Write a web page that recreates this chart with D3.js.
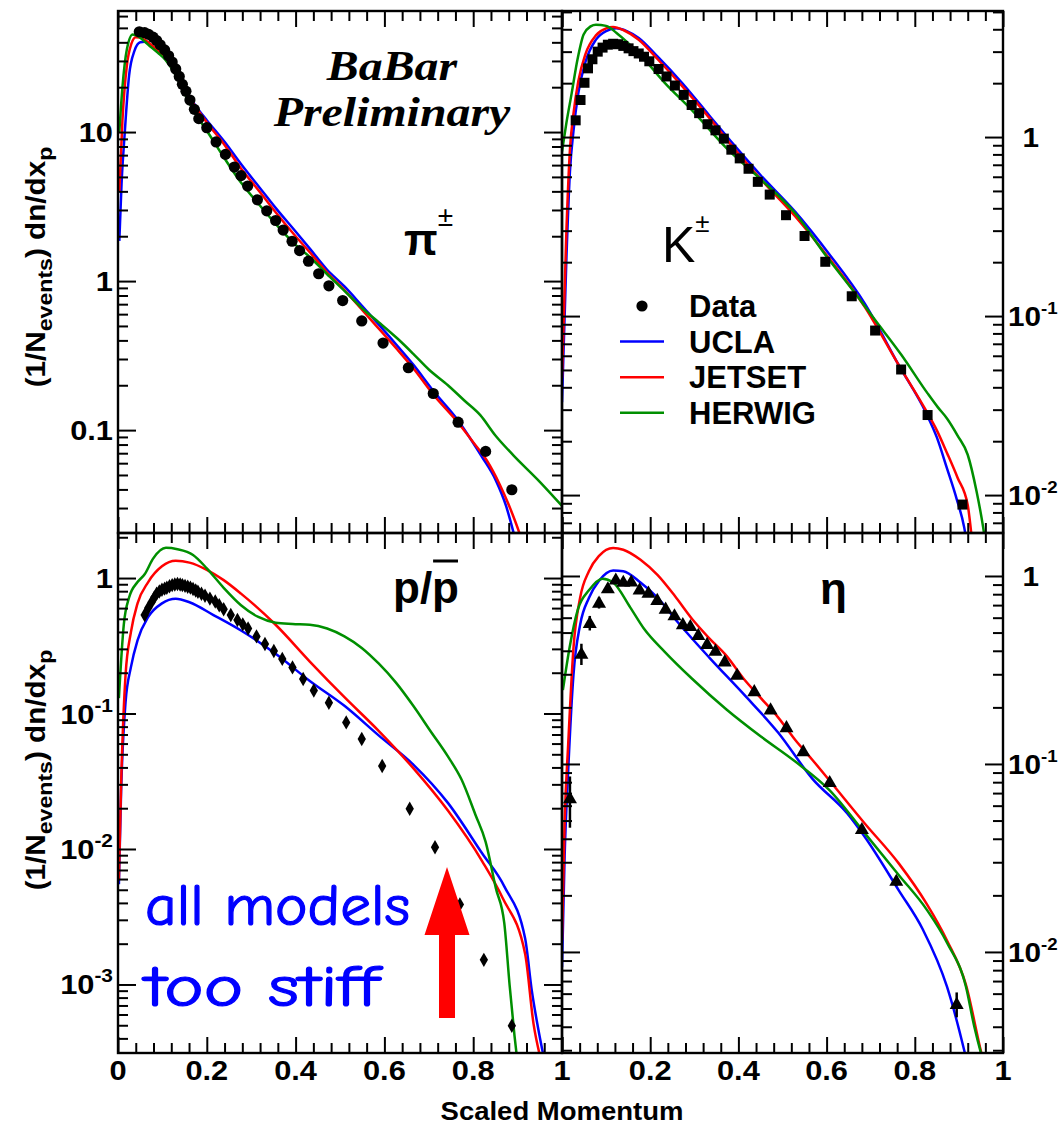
<!DOCTYPE html>
<html>
<head>
<meta charset="utf-8">
<script src="https://cdn.jsdelivr.net/npm/d3@7"></script>
<style>
  html, body { margin: 0; padding: 0; background: #fff; }
  svg { display: block; }
</style>
</head>
<body>
<svg id="chart" width="1060" height="1128"></svg>
<script>
// ---------------- data ----------------
const xTickValues = [0, 0.2, 0.4, 0.6, 0.8, 1];
const xTickLabels = ["0", "0.2", "0.4", "0.6", "0.8", "1"];

// y tick labels: [value, base, exponent]
const piTicks  = [[10, "10", ""], [1, "1", ""], [0.1, "0.1", ""]];
const kTicks   = [[1, "1", ""], [0.1, "10", "-1"], [0.01, "10", "-2"]];
const pTicks   = [[1, "1", ""], [0.1, "10", "-1"], [0.01, "10", "-2"], [0.001, "10", "-3"]];
const etaTicks = [[1, "1", ""], [0.1, "10", "-1"], [0.01, "10", "-2"]];

// y-axis ranges
const piRange  = [0.0204, 64.9];
const kRange   = [0.00614, 5.06];
const pRange   = [3.12e-4, 2.15];
const etaRange = [0.0029, 1.693];

const modelNames = ["UCLA", "JETSET", "HERWIG"];

// ---- pi+- ----
const piData = [[0.048,47.1],[0.060,46.4],[0.069,45.2],[0.079,43.3],[0.087,41.1],[0.095,38.5],[0.105,35.6],[0.114,32.5],[0.122,29.5],[0.130,26.5],[0.138,23.6],[0.145,20.9],[0.153,18.8],[0.162,16.4],[0.172,14.2],[0.182,12.3],[0.200,10.7],[0.221,8.58],[0.242,7.08],[0.262,5.82],[0.277,5.10],[0.292,4.34],[0.314,3.51],[0.335,2.96],[0.355,2.55],[0.372,2.20],[0.392,1.85],[0.409,1.60],[0.429,1.36],[0.452,1.12],[0.475,0.93],[0.506,0.74],[0.549,0.54],[0.597,0.384],[0.654,0.262],[0.710,0.176],[0.766,0.113],[0.828,0.072],[0.887,0.0398]];
const piUCLA = [[0.003,1.86],[0.008,4.5],[0.015,9.7],[0.025,24],[0.037,35],[0.05,40],[0.06,40.3],[0.075,38],[0.09,34.5],[0.107,31],[0.125,26.5],[0.14,22.5],[0.16,17.5],[0.18,14.3],[0.2,12.0],[0.24,8.6],[0.277,6.1],[0.32,4.2],[0.355,3.1],[0.40,2.15],[0.432,1.65],[0.47,1.2],[0.51,0.92],[0.55,0.68],[0.59,0.5],[0.63,0.365],[0.665,0.275],[0.711,0.182],[0.766,0.116],[0.80,0.082],[0.82,0.066],[0.851,0.046],[0.874,0.031],[0.89,0.021],[0.9,0.016]];
const piJETSET = [[0.003,4],[0.01,12],[0.02,28],[0.03,39],[0.04,43.3],[0.05,43],[0.06,41.5],[0.075,38.5],[0.09,35],[0.107,31],[0.125,26.3],[0.14,22.3],[0.16,17.3],[0.18,14],[0.2,11.6],[0.24,8.2],[0.277,5.7],[0.32,3.95],[0.355,2.9],[0.40,2.0],[0.432,1.56],[0.47,1.15],[0.51,0.87],[0.55,0.64],[0.59,0.47],[0.63,0.345],[0.665,0.26],[0.711,0.172],[0.766,0.112],[0.80,0.083],[0.83,0.063],[0.86,0.043],[0.885,0.029],[0.905,0.02],[0.915,0.016]];
const piHERWIG = [[0.003,10],[0.01,20],[0.02,36],[0.033,45.2],[0.045,44],[0.06,40.5],[0.075,37],[0.09,34],[0.107,30.5],[0.125,25.5],[0.14,21],[0.161,15.6],[0.18,12.5],[0.2,10.2],[0.238,6.8],[0.277,4.58],[0.32,3.2],[0.355,2.42],[0.40,1.75],[0.432,1.45],[0.47,1.12],[0.51,0.86],[0.549,0.66],[0.587,0.53],[0.63,0.41],[0.665,0.325],[0.70,0.255],[0.743,0.2],[0.78,0.158],[0.816,0.126],[0.85,0.092],[0.89,0.068],[0.95,0.045],[1.0,0.031]];

// ---- K+- ----
const kData = [[0.031,1.24],[0.042,1.61],[0.051,2.01],[0.059,2.42],[0.069,2.72],[0.081,3.00],[0.092,3.16],[0.104,3.28],[0.116,3.32],[0.127,3.30],[0.139,3.23],[0.151,3.13],[0.162,3.02],[0.174,2.93],[0.186,2.81],[0.198,2.65],[0.219,2.40],[0.237,2.18],[0.256,1.94],[0.276,1.72],[0.294,1.51],[0.311,1.36],[0.330,1.18],[0.348,1.09],[0.367,0.98],[0.384,0.85],[0.403,0.76],[0.423,0.665],[0.444,0.562],[0.471,0.477],[0.508,0.366],[0.550,0.280],[0.597,0.201],[0.657,0.129],[0.710,0.083],[0.769,0.0503],[0.829,0.028],[0.908,0.00885]];
const kUCLA = [[0.0,0.033],[0.01,0.21],[0.018,0.64],[0.026,1.08],[0.037,1.76],[0.053,2.62],[0.077,3.5],[0.1,3.91],[0.123,4.05],[0.147,3.91],[0.174,3.58],[0.217,2.81],[0.272,2.01],[0.334,1.32],[0.389,0.91],[0.451,0.61],[0.529,0.382],[0.607,0.22],[0.686,0.118],[0.764,0.053],[0.826,0.0286],[0.85,0.021],[0.873,0.0141],[0.895,0.0095],[0.912,0.0066],[0.92,0.005]];
const kJETSET = [[0.0,0.045],[0.01,0.3],[0.018,0.85],[0.026,1.35],[0.037,2.05],[0.053,2.9],[0.077,3.7],[0.1,4.05],[0.116,4.12],[0.14,3.95],[0.174,3.5],[0.217,2.72],[0.272,1.93],[0.334,1.28],[0.389,0.87],[0.451,0.58],[0.529,0.36],[0.607,0.208],[0.686,0.113],[0.764,0.053],[0.826,0.0295],[0.85,0.023],[0.873,0.0172],[0.897,0.0125],[0.92,0.0088],[0.93,0.0055]];
const kHERWIG = [[0.0,0.83],[0.01,1.2],[0.022,1.76],[0.035,2.7],[0.049,3.74],[0.065,4.15],[0.077,4.24],[0.1,4.18],[0.123,3.83],[0.15,3.35],[0.178,2.87],[0.233,2.01],[0.295,1.41],[0.373,0.867],[0.451,0.58],[0.529,0.374],[0.6,0.215],[0.657,0.142],[0.71,0.095],[0.769,0.061],[0.829,0.037],[0.852,0.031],[0.873,0.0268],[0.897,0.0215],[0.92,0.0168],[0.94,0.0105],[0.955,0.0066],[0.962,0.005]];

// ---- p/pbar ----
const pData = [[0.060,0.533],[0.068,0.60],[0.0755,0.663],[0.082,0.72],[0.087,0.767],[0.093,0.795],[0.099,0.819],[0.105,0.835],[0.110,0.847],[0.116,0.87],[0.122,0.887],[0.128,0.895],[0.134,0.903],[0.140,0.895],[0.145,0.887],[0.151,0.875],[0.157,0.863],[0.163,0.85],[0.169,0.83],[0.175,0.81],[0.180,0.792],[0.188,0.765],[0.196,0.741],[0.207,0.705],[0.219,0.671],[0.228,0.63],[0.238,0.589],[0.254,0.533],[0.269,0.49],[0.281,0.455],[0.293,0.424],[0.312,0.371],[0.331,0.326],[0.351,0.289],[0.370,0.253],[0.393,0.219],[0.417,0.18],[0.441,0.148],[0.475,0.12],[0.514,0.086],[0.549,0.0648],[0.595,0.041],[0.657,0.0198],[0.714,0.0103],[0.770,0.0039],[0.824,0.00152],[0.887,0.000496]];
const pUCLA = [[0.002,0.0055],[0.007,0.0267],[0.017,0.121],[0.029,0.219],[0.044,0.347],[0.068,0.516],[0.099,0.65],[0.13,0.703],[0.161,0.663],[0.215,0.533],[0.277,0.41],[0.355,0.276],[0.432,0.174],[0.51,0.114],[0.587,0.069],[0.665,0.042],[0.743,0.0219],[0.82,0.0093],[0.87,0.0053],[0.917,0.00218],[0.932,0.0009],[0.945,0.0005],[0.958,0.0003]];
const pJETSET = [[0.002,0.006],[0.007,0.03],[0.017,0.192],[0.029,0.397],[0.044,0.65],[0.068,0.934],[0.099,1.22],[0.13,1.34],[0.161,1.30],[0.2,1.15],[0.238,0.965],[0.277,0.767],[0.355,0.452],[0.432,0.242],[0.51,0.132],[0.587,0.0745],[0.665,0.0395],[0.743,0.0192],[0.82,0.00814],[0.866,0.00436],[0.917,0.00168],[0.936,0.00051],[0.95,0.0003]];
const pHERWIG = [[0.002,0.13],[0.013,0.452],[0.025,0.718],[0.044,0.934],[0.06,1.065],[0.079,1.39],[0.108,1.67],[0.134,1.63],[0.169,1.48],[0.2,1.18],[0.238,0.847],[0.277,0.63],[0.316,0.516],[0.355,0.468],[0.393,0.458],[0.432,0.452],[0.471,0.424],[0.51,0.371],[0.549,0.305],[0.587,0.234],[0.626,0.169],[0.665,0.114],[0.704,0.074],[0.743,0.0482],[0.774,0.0324],[0.805,0.0179],[0.828,0.0113],[0.851,0.00514],[0.87,0.00284],[0.882,0.00099],[0.893,0.00042],[0.898,0.0003]];

// ---- eta ----
const etaData = [[0.018,0.0658],[0.044,0.386],[0.063,0.563],[0.084,0.721],[0.104,0.86],[0.122,0.958],[0.139,0.931],[0.157,0.935],[0.176,0.848],[0.196,0.816],[0.216,0.746],[0.235,0.67],[0.255,0.618],[0.274,0.554],[0.291,0.542],[0.309,0.486],[0.329,0.435],[0.348,0.401],[0.369,0.351],[0.397,0.298],[0.436,0.244],[0.473,0.195],[0.509,0.157],[0.547,0.117],[0.607,0.0802],[0.680,0.0451],[0.758,0.0239],[0.895,0.00529]];
const etaErr = [0.02,0.05,0.05,0.05,0.04,0.03,0.03,0.03,0.03,0.03,0.025,0.02,0.02,0.02,0.02,0.015,0.015,0.012,0.012,0.01,0.008,0.007,0.006,0.005,0.004,0.0025,0.0015,0.0008];
const etaUCLA = [[0.0,0.0083],[0.006,0.0325],[0.014,0.0916],[0.026,0.298],[0.041,0.549],[0.061,0.764],[0.084,0.944],[0.116,1.07],[0.139,1.06],[0.178,0.923],[0.217,0.764],[0.264,0.562],[0.334,0.368],[0.412,0.235],[0.49,0.147],[0.568,0.0833],[0.647,0.0545],[0.686,0.0411],[0.764,0.0212],[0.818,0.0132],[0.873,0.00653],[0.912,0.003],[0.92,0.0025]];
const etaJETSET = [[0.0,0.0115],[0.006,0.0496],[0.014,0.127],[0.026,0.414],[0.041,0.764],[0.061,1.06],[0.084,1.28],[0.116,1.41],[0.139,1.38],[0.178,1.22],[0.217,1.01],[0.256,0.782],[0.295,0.59],[0.334,0.466],[0.373,0.376],[0.412,0.284],[0.451,0.224],[0.49,0.177],[0.529,0.134],[0.568,0.105],[0.607,0.0814],[0.686,0.0484],[0.764,0.0295],[0.827,0.018],[0.873,0.0115],[0.916,0.00668],[0.951,0.0029],[0.96,0.0024]];
const etaHERWIG = [[0.002,0.247],[0.017,0.414],[0.036,0.664],[0.061,0.839],[0.092,0.968],[0.116,0.923],[0.155,0.679],[0.186,0.524],[0.233,0.395],[0.295,0.284],[0.373,0.195],[0.451,0.14],[0.529,0.103],[0.607,0.0724],[0.686,0.043],[0.764,0.0256],[0.827,0.0168],[0.873,0.0112],[0.916,0.00653],[0.935,0.004],[0.95,0.0029],[0.96,0.0024]];

// annotation arrow in the p/pbar panel: [x, tail, head base, tip]
const arrowAt = [0.741, 5.66e-4, 0.00232, 0.00736];

// ---------------- drawing ----------------
const svg = d3.select("#chart");
const FONT = "'Liberation Sans', Arial, Helvetica, sans-serif";
const SX = 1.1;                       // horizontal stretch of the label font
const modelColors = ["#0000ff", "#ff0000", "#008f00"];

// frame geometry
const L = 118, M = 562, R = 1003, T = 11, C = 533, B = 1053;

const panels = [
  { id: "pi",  xr: [L, M], yr: [T, C], range: piRange,  ticks: piTicks,  side: "left",
    data: piData,  marker: "circle",   models: [piUCLA, piJETSET, piHERWIG], xLabels: false },
  { id: "k",   xr: [M, R], yr: [T, C], range: kRange,   ticks: kTicks,   side: "right",
    data: kData,   marker: "square",   models: [kUCLA, kJETSET, kHERWIG], xLabels: false },
  { id: "p",   xr: [L, M], yr: [C, B], range: pRange,   ticks: pTicks,   side: "left",
    data: pData,   marker: "diamond",  models: [pUCLA, pJETSET, pHERWIG], xLabels: true, skipZero: false },
  { id: "eta", xr: [M, R], yr: [C, B], range: etaRange, ticks: etaTicks, side: "right",
    data: etaData, marker: "triangle", models: [etaUCLA, etaJETSET, etaHERWIG], xLabels: true, skipZero: true, err: etaErr }
];

const symbolOf = {
  square:   d3.symbol().type(d3.symbolSquare).size(100),
  diamond:  d3.symbol().type(d3.symbolDiamond).size(60),
  triangle: d3.symbol().type(d3.symbolTriangle).size(85)
};

function stretchedText(parent, x, y, size, anchor, weight) {
  return parent.append("text")
    .attr("transform", `translate(${x},${y}) scale(${SX},1)`)
    .attr("text-anchor", anchor)
    .attr("font-family", FONT)
    .attr("font-weight", weight || "bold")
    .attr("font-size", size)
    .attr("fill", "#000");
}

const scales = {};

panels.forEach(p => {
  const x = d3.scaleLinear().domain([0, 1]).range(p.xr);
  const y = d3.scaleLog().domain(p.range).range([p.yr[1], p.yr[0]]);
  scales[p.id] = { x, y };

  const g = svg.append("g").attr("class", "panel-" + p.id);
  const clipId = "clip-" + p.id;
  svg.append("clipPath").attr("id", clipId)
    .append("rect")
    .attr("x", p.xr[0]).attr("y", p.yr[0])
    .attr("width", p.xr[1] - p.xr[0]).attr("height", p.yr[1] - p.yr[0]);

  const plot = g.append("g").attr("clip-path", `url(#${clipId})`);

  // model curves
  const line = d3.line().x(d => x(d[0])).y(d => y(d[1])).curve(d3.curveMonotoneX);
  p.models.forEach((m, i) => {
    plot.append("path").datum(m)
      .attr("d", line)
      .attr("fill", "none")
      .attr("stroke", modelColors[i])
      .attr("stroke-width", 2.5)
      .attr("stroke-linejoin", "round");
  });

  // error bars
  if (p.err) {
    plot.append("g").selectAll("line").data(p.data).join("line")
      .attr("x1", d => x(d[0])).attr("x2", d => x(d[0]))
      .attr("y1", (d, i) => y(Math.max(d[1] - p.err[i], p.range[0] * 0.5)))
      .attr("y2", (d, i) => y(d[1] + p.err[i]))
      .attr("stroke", "#000").attr("stroke-width", 2.5);
  }

  // data markers
  const mk = plot.append("g");
  if (p.marker === "circle") {
    mk.selectAll("circle").data(p.data).join("circle")
      .attr("cx", d => x(d[0])).attr("cy", d => y(d[1])).attr("r", 5.6).attr("fill", "#000");
  } else {
    mk.selectAll("path").data(p.data).join("path")
      .attr("transform", d => `translate(${x(d[0])},${y(d[1]) + (p.marker === "triangle" ? 1 : 0)})`)
      .attr("d", symbolOf[p.marker]).attr("fill", "#000");
  }

  // ticks on all four sides, pointing inward
  const xAll = d3.range(0, 26).map(i => +(i * 0.04).toFixed(2));
  const xMajor = xAll.filter((v, i) => i % 5 === 0);
  const xMinor = xAll.filter((v, i) => i % 5 !== 0);
  const lo = Math.floor(Math.log10(p.range[0])), hi = Math.ceil(Math.log10(p.range[1]));
  const yAll = [];
  for (let e = lo; e <= hi; e++) for (let m = 1; m <= 9; m++) {
    const v = m * Math.pow(10, e);
    if (v >= p.range[0] && v <= p.range[1]) yAll.push({ v, major: m === 1 });
  }
  const yMajor = yAll.filter(t => t.major).map(t => t.v);
  const yMinor = yAll.filter(t => !t.major).map(t => t.v);

  const tickG = g.append("g");
  function ticks(axis, values, size, tx, ty) {
    tickG.append("g").attr("transform", `translate(${tx},${ty})`)
      .call(axis.tickValues(values).tickSize(size).tickFormat(""))
      .call(s => s.select(".domain").remove())
      .call(s => s.selectAll("line").attr("stroke", "#000").attr("stroke-width", 2));
  }
  ticks(d3.axisTop(x), xMajor, 16, 0, p.yr[1]);
  ticks(d3.axisTop(x), xMinor, 10, 0, p.yr[1]);
  ticks(d3.axisBottom(x), xMajor, 16, 0, p.yr[0]);
  ticks(d3.axisBottom(x), xMinor, 10, 0, p.yr[0]);
  ticks(d3.axisRight(y), yMajor, 18, p.xr[0], 0);
  ticks(d3.axisRight(y), yMinor, 10, p.xr[0], 0);
  ticks(d3.axisLeft(y), yMajor, 18, p.xr[1], 0);
  ticks(d3.axisLeft(y), yMinor, 10, p.xr[1], 0);

  // frame
  g.append("rect")
    .attr("x", p.xr[0]).attr("y", p.yr[0])
    .attr("width", p.xr[1] - p.xr[0]).attr("height", p.yr[1] - p.yr[0])
    .attr("fill", "none").attr("stroke", "#000").attr("stroke-width", 2.4);

  // y tick labels
  p.ticks.forEach(([v, base, exp]) => {
    const ty = y(v) + 10;
    let t;
    if (p.side === "left") {
      t = stretchedText(g, p.xr[0] - 5, ty, 28, "end");
    } else {
      t = exp ? stretchedText(g, p.xr[1] + 5, ty, 27, "start")
              : stretchedText(g, p.xr[1] + 36, ty, 27, "end");
    }
    t.append("tspan").text(base);
    if (exp) t.append("tspan").attr("dy", -12).attr("font-size", p.side === "left" ? 19 : 17).text(exp);
  });

  // x tick labels
  if (p.xLabels) {
    xTickValues.forEach((v, i) => {
      if (p.skipZero && v === 0) return;
      stretchedText(g, x(v), 1080, 28, "middle").text(xTickLabels[i]);
    });
  }
});

// axis titles
stretchedText(svg, 562, 1120, 25, "middle").text("Scaled Momentum");

function yTitle(cy) {
  const t = svg.append("text")
    .attr("transform", `translate(45,${cy}) rotate(-90) scale(${SX},1)`)
    .attr("text-anchor", "middle")
    .attr("font-family", FONT).attr("font-weight", "bold").attr("font-size", 27);
  t.append("tspan").text("(1/N");
  t.append("tspan").attr("dy", 7).attr("font-size", 21).text("events");
  t.append("tspan").attr("dy", -7).attr("font-size", 27).text(") dn/dx");
  t.append("tspan").attr("dy", 7).attr("font-size", 21).text("p");
}
yTitle(267);
yTitle(770);

// BaBar Preliminary
const serif = "'Liberation Serif', 'Times New Roman', serif";
[["BaBar", 80], ["Preliminary", 126]].forEach(([s, by]) => {
  svg.append("text")
    .attr("transform", `translate(392,${by}) scale(1.14,1)`)
    .attr("text-anchor", "middle")
    .attr("font-family", serif).attr("font-style", "italic").attr("font-weight", "bold")
    .attr("font-size", 42).text(s);
});

// particle labels
(function () {
  const t = svg.append("text").attr("x", 404).attr("y", 255)
    .attr("font-family", FONT).attr("font-weight", "bold").attr("font-size", 44);
  t.append("tspan").text("\u03c0");
  t.append("tspan").attr("dy", -29).attr("font-size", 28).attr("font-weight", "normal").text("\u00b1");

  const k = svg.append("text").attr("x", 662).attr("y", 262)
    .attr("font-family", FONT).attr("font-size", 50);
  k.append("tspan").text("K");
  k.append("tspan").attr("dy", -30).attr("font-size", 26).text("\u00b1");

  const px0 = 393, pBase = 603;
  const pp = svg.append("text").attr("x", px0).attr("y", pBase)
    .attr("font-family", FONT).attr("font-weight", "bold").attr("font-size", 44).text("p/p");
  const ppW = pp.node().getComputedTextLength();
  const pW = svg.append("text").attr("font-family", FONT).attr("font-weight", "bold")
    .attr("font-size", 44).text("p");
  const pw = pW.node().getComputedTextLength();
  pW.remove();
  svg.append("line")
    .attr("x1", px0 + ppW - pw + 1).attr("x2", px0 + ppW - 1)
    .attr("y1", pBase - 42).attr("y2", pBase - 42)
    .attr("stroke", "#000").attr("stroke-width", 3);

  svg.append("text").attr("x", 820).attr("y", 604)
    .attr("font-family", FONT).attr("font-weight", "bold").attr("font-size", 44).text("\u03b7");
})();

// legend (K panel)
(function () {
  const lx = 620, ly = 306, step = 35.6;
  const lg = svg.append("g");
  lg.append("circle").attr("cx", lx + 22).attr("cy", ly).attr("r", 5.6).attr("fill", "#000");
  modelNames.forEach((n, i) => {
    lg.append("line").attr("x1", lx).attr("x2", lx + 44)
      .attr("y1", ly + step * (i + 1)).attr("y2", ly + step * (i + 1))
      .attr("stroke", modelColors[i]).attr("stroke-width", 2.5);
  });
  ["Data"].concat(modelNames).forEach((n, i) => {
    lg.append("text").attr("x", lx + 69).attr("y", ly + step * i + 11)
      .attr("font-family", FONT).attr("font-weight", "bold").attr("font-size", 31).text(n);
  });
})();

// annotation: all models too stiff + red arrow
(function () {
  const { x, y } = scales.p;
  const comic = "'Comic Sans MS', 'Comic Neue', 'Noto Sans', sans-serif";
  [["all models", 925, 265], ["too stiff", 1006, 234]].forEach(([s, by, w]) => {
    svg.append("text").attr("x", 145).attr("y", by)
      .attr("font-family", comic).attr("font-size", 58)
      .attr("textLength", w).attr("lengthAdjust", "spacingAndGlyphs")
      .attr("fill", "#0000ff").attr("stroke", "#0000ff").attr("stroke-width", 1.2)
      .text(s);
  });

  const ax = x(arrowAt[0]);
  const yTail = y(arrowAt[1]), yBase = y(arrowAt[2]), yTip = y(arrowAt[3]);
  const sw = 8, hw = 22.5;
  const pts = [[ax - sw, yTail], [ax - sw, yBase], [ax - hw, yBase], [ax, yTip],
               [ax + hw, yBase], [ax + sw, yBase], [ax + sw, yTail]];
  svg.append("path").attr("d", d3.line()(pts) + "Z").attr("fill", "#ff0000");
})();
</script>
</body>
</html>
